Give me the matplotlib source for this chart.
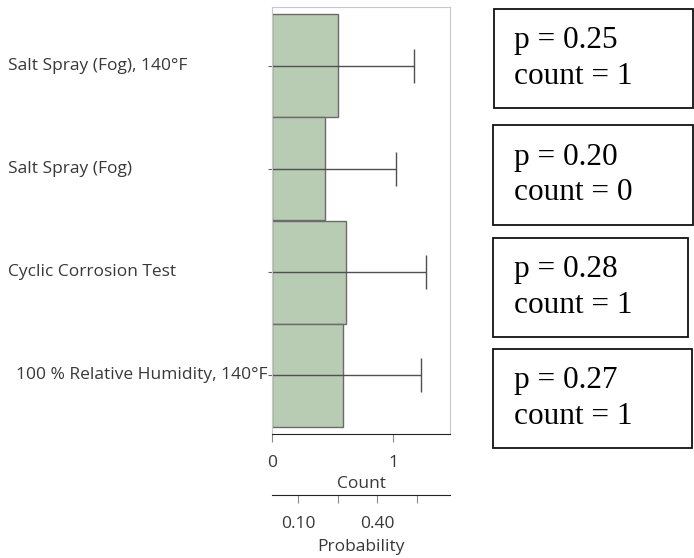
import matplotlib.pyplot as plt
import matplotlib.transforms as mtransforms
from matplotlib.patches import Rectangle

categories = ['Salt Spray (Fog), 140°F', 'Salt Spray (Fog)', 'Cyclic Corrosion Test',
              '100 % Relative Humidity, 140°F']
prob = [0.25, 0.20, 0.28, 0.27]
counts = [1, 0, 1, 1]
upper = [0.54, 0.47, 0.585, 0.567]  # right end of the interval line, probability units
count_ticks = [0, 1]
prob_ticks = [0.10, 0.25, 0.40, 0.55]
prob_labels = ['0.10', '', '0.40', '']
counts_per_prob = 2.17

W, H = 694, 558
fig = plt.figure(figsize=(W / 100, H / 100), dpi=100)
ax = fig.add_axes([272 / W, 1 - 434 / H, 178 / W, 427 / H])

font = 'Open Sans'
tcol = '#383838'
fs = 12.5

y = list(range(len(categories)))
ax.barh(y, prob, height=1.0, color='#b8cbb3', edgecolor='#6b6b6b', linewidth=1)
ax.hlines(y, 0, upper, color='#505050', lw=1)
ax.vlines(upper, [v - 0.165 for v in y], [v + 0.165 for v in y], color='#505050', lw=1)
ax.set_ylim(3.57, -0.57)
ax.set_xlim(0, 0.677)

for s in ['top', 'right', 'left']:
    ax.spines[s].set_color('#c8c8c8')
ax.spines['bottom'].set_color('#222222')

ax.set_yticks(y)
ax.set_yticklabels([])
ax.tick_params(axis='y', length=3, color='#666666')

# category labels: left aligned, except the long one pushed against the axis
tr = mtransforms.blended_transform_factory(fig.transFigure, ax.transData)
for i, name in enumerate(categories):
    if i == len(categories) - 1:
        fig.text(268 / W, i, name, transform=tr, ha='right', va='center',
                 family=font, fontsize=fs, color=tcol)
    else:
        fig.text(8 / W, i, name, transform=tr, ha='left', va='center',
                 family=font, fontsize=fs, color=tcol)

# count axis
ax.set_xticks([c / counts_per_prob for c in count_ticks])
ax.set_xticklabels([str(c) for c in count_ticks], family=font, fontsize=fs, color=tcol)
ax.tick_params(axis='x', length=6, color='#888888', pad=9)
ax.set_xlabel('Count', family=font, fontsize=fs, color=tcol, labelpad=3.5)

# probability axis
sec = ax.secondary_xaxis(-61 / 427)
sec.set_xticks(prob_ticks)
sec.set_xticklabels(prob_labels, family=font, fontsize=fs, color=tcol)
sec.tick_params(axis='x', length=6, color='#888888', pad=9)
sec.spines['bottom'].set_color('#222222')
sec.set_xlabel('Probability', family=font, fontsize=fs, color=tcol, labelpad=5)

# annotation boxes
boxes = [(494, 9, 199, 99), (493, 125, 200, 100), (493, 238, 195, 99), (493, 349, 199, 99)]
for (bx, by, bw, bh), p, c in zip(boxes, prob, counts):
    fig.add_artist(Rectangle((bx / W, 1 - (by + bh) / H), bw / W, bh / H,
                             transform=fig.transFigure, fill=False,
                             edgecolor='#111111', lw=1.3))
    fig.text(514 / W, 1 - (by + bh / 2) / H, f'p = {p:.2f}\ncount = {c}',
             ha='left', va='center', family='Liberation Serif', fontsize=22.5,
             color='black', linespacing=1.3)

fig.savefig('out.png', dpi=100)
